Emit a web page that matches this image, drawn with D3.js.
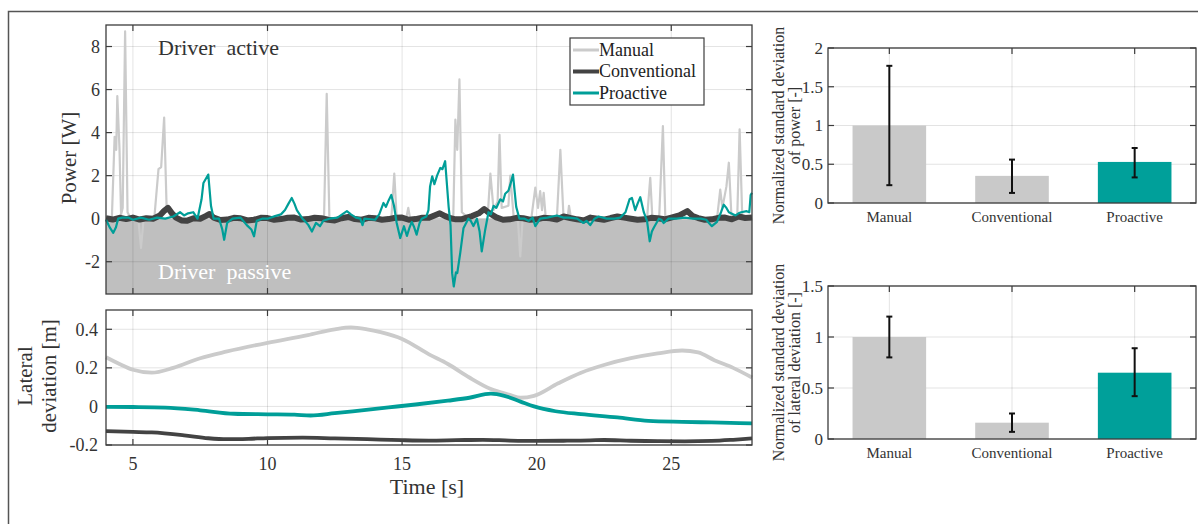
<!DOCTYPE html>
<html>
<head>
<meta charset="utf-8">
<script src="https://cdn.jsdelivr.net/npm/d3@7"></script>
<style>
  body { margin: 0; background: #fff; }
  svg { display: block; font-family: "Liberation Serif", "Times New Roman", serif; }
</style>
</head>
<body>
<svg id="chart" width="1198" height="524"></svg>
<script>
// ---- data ----
const timeDomain = [4, 28];
const timeTicks = [5, 10, 15, 20, 25];
const powerTicks = [-2, 0, 2, 4, 6, 8];
const devTicks = [-0.2, 0, 0.2, 0.4];
const seriesNames = ["Manual", "Conventional", "Proactive"];

// [time s, power W]
const powerManual = [[4.0,0.05],[4.22,0.1],[4.32,3.8],[4.38,3.2],[4.42,5.7],[4.5,3.3],[4.56,0.2],[4.62,0.5],[4.71,8.7],[4.8,0.3],[4.9,0.05],[5.2,0],[5.3,-1.36],[5.4,0],[5.8,0.1],[5.95,2.3],[6.05,2.4],[6.16,4.7],[6.25,0.6],[6.4,0.1],[7,0],[9,0],[12.1,0],[12.2,5.8],[12.3,0],[14.6,0],[14.71,2.1],[14.8,0],[15.15,0],[15.23,0.5],[15.3,0],[16.9,0],[16.98,4.6],[17.05,3.2],[17.13,6.47],[17.22,0.3],[17.5,0],[18.2,0.5],[18.28,2.1],[18.4,0.4],[18.55,0.8],[18.62,3.9],[18.7,0.5],[18.95,0.6],[19.02,2.0],[19.15,0],[19.3,0],[19.39,-1.75],[19.48,0],[19.8,0],[19.95,1.44],[20.05,0.5],[20.13,1.28],[20.2,0.4],[20.26,1.2],[20.34,0],[20.75,0],[20.88,3.2],[21.0,0],[21.15,0],[21.2,0.6],[21.28,0],[24.1,0],[24.22,1.9],[24.3,0],[24.55,0],[24.69,4.3],[24.78,0],[26.7,0],[26.82,1.35],[26.9,0.5],[27.05,1.5],[27.14,2.6],[27.24,0],[27.45,0],[27.54,4.15],[27.64,0],[28,0]];

const powerConventional = [[4.0,0.02],[4.25,-0.04],[4.5,0.04],[4.75,-0.02],[5.0,0.05],[5.25,-0.04],[5.5,0.02],[5.75,0.0],[6.0,0.15],[6.15,0.35],[6.3,0.5],[6.45,0.25],[6.6,0.05],[6.8,-0.08],[7.0,-0.1],[7.25,0.02],[7.5,0.0],[7.7,0.12],[7.85,0.22],[8.0,0.05],[8.25,-0.06],[8.5,-0.04],[8.75,0.04],[9.0,0.02],[9.25,-0.08],[9.5,-0.05],[9.75,0.04],[10.0,0.03],[10.25,-0.05],[10.5,-0.02],[10.75,0.04],[11.0,0.05],[11.25,-0.04],[11.5,-0.02],[11.75,0.04],[12.0,0.02],[12.25,-0.05],[12.5,-0.08],[12.75,0.02],[13.0,0.08],[13.25,-0.02],[13.5,-0.05],[13.75,0.04],[14.0,0.02],[14.25,-0.05],[14.5,-0.02],[14.75,0.04],[15.0,0.05],[15.25,-0.05],[15.5,-0.02],[15.75,0.04],[16.0,0.04],[16.2,0.15],[16.4,0.25],[16.6,0.12],[16.8,0.02],[17.0,-0.03],[17.2,-0.03],[17.4,0.05],[17.6,0.12],[17.85,0.25],[18.05,0.45],[18.25,0.25],[18.5,0.06],[18.75,-0.05],[19.0,-0.03],[19.25,0.04],[19.5,0.02],[19.75,-0.05],[20.0,-0.03],[20.25,0.04],[20.5,0.02],[20.75,-0.04],[21.0,0.1],[21.25,0.03],[21.5,-0.03],[21.75,-0.08],[22.0,0.05],[22.25,0.0],[22.5,-0.05],[22.75,0.03],[23.0,0.1],[23.25,0.05],[23.5,0.0],[23.75,-0.05],[24.0,-0.03],[24.25,0.04],[24.5,0.02],[24.75,-0.03],[25.0,0.05],[25.3,0.15],[25.6,0.35],[25.8,0.12],[26.0,0.03],[26.25,-0.05],[26.5,-0.03],[26.75,0.04],[27.0,0.05],[27.25,-0.03],[27.5,0.1],[27.75,0.03],[28.0,0.05]];

const powerProactive = [[4.0,-0.05],[4.15,-0.43],[4.27,-0.66],[4.37,-0.4],[4.45,0],[4.6,0.05],[4.83,0.05],[5.0,-0.05],[5.3,0.05],[5.6,-0.05],[5.9,0.05],[6.2,0.0],[6.5,0.1],[6.75,0.3],[6.9,0.15],[7.05,0.25],[7.24,0.3],[7.4,0.0],[7.55,0.9],[7.62,1.66],[7.8,2.05],[7.9,0.6],[8.0,0.0],[8.2,0.0],[8.32,-0.5],[8.39,-0.98],[8.5,-0.2],[8.7,0.0],[9.0,0.05],[9.23,-0.3],[9.4,-0.5],[9.5,-0.82],[9.6,-0.1],[9.8,0.0],[10.0,0.0],[10.28,0.12],[10.5,0.2],[10.65,0.4],[10.78,0.7],[10.9,0.96],[11.0,0.7],[11.09,0.4],[11.3,0.0],[11.42,-0.15],[11.52,-0.3],[11.65,-0.6],[11.8,-0.2],[11.95,-0.35],[12.07,-0.1],[12.3,0.0],[12.6,0.05],[12.95,0.35],[13.1,0.2],[13.28,0.05],[13.45,0.0],[13.53,-0.3],[13.6,0.0],[14.0,-0.05],[14.15,0.2],[14.31,0.73],[14.4,0.55],[14.5,0.85],[14.6,1.1],[14.7,0.6],[14.8,-0.2],[14.93,-0.9],[15.07,-0.35],[15.18,-0.8],[15.28,-0.4],[15.36,-0.15],[15.45,-0.4],[15.54,-0.74],[15.65,-0.2],[15.73,0.0],[15.9,0.1],[15.98,0.4],[16.04,1.5],[16.12,1.97],[16.2,1.6],[16.3,2.0],[16.42,2.36],[16.5,2.3],[16.6,2.67],[16.73,0.55],[16.8,-0.3],[16.86,-2.53],[16.92,-3.15],[17.0,-2.5],[17.05,-2.53],[17.16,-1.6],[17.28,-0.45],[17.38,-0.2],[17.46,0.0],[17.55,-0.1],[17.65,-0.34],[17.78,0.0],[17.88,-0.6],[17.96,-1.52],[18.09,-0.5],[18.21,0.3],[18.3,0.2],[18.4,0.6],[18.5,0.5],[18.65,0.9],[18.75,0.8],[18.83,1.16],[18.95,1.3],[19.02,1.58],[19.12,2.05],[19.24,0.55],[19.36,0.0],[19.55,0.0],[19.7,-0.1],[19.85,0.05],[19.95,-0.35],[20.13,0.0],[20.4,0.05],[20.75,0.15],[21.0,0.05],[21.2,0.05],[21.5,0.0],[21.74,-0.2],[21.85,-0.1],[21.99,-0.3],[22.15,0.0],[22.3,0.1],[22.6,0.0],[22.9,0.0],[23.1,0.05],[23.3,0.3],[23.45,0.9],[23.54,0.96],[23.66,0.4],[23.75,0.7],[23.85,1.0],[23.98,0.3],[24.1,-0.1],[24.2,-1.05],[24.28,-0.6],[24.36,-0.4],[24.54,0.0],[24.63,-0.05],[24.72,-0.2],[24.9,0.0],[25.2,0.0],[25.5,0.05],[25.8,0.0],[26.1,0.0],[26.3,-0.05],[26.4,-0.2],[26.51,-0.35],[26.7,-0.15],[26.85,0.3],[26.95,0.65],[27.05,0.5],[27.14,0.3],[27.39,0.15],[27.5,0.25],[27.6,0.3],[27.8,0.35],[27.9,0.3],[27.95,1.1],[28.0,1.2]];

// [time s, lateral deviation m]
const devManual = [[4,0.255],[4.5,0.22],[5,0.19],[5.7,0.175],[6.5,0.2],[7.5,0.25],[8.5,0.285],[10,0.33],[11.5,0.37],[12.5,0.40],[13.1,0.41],[13.7,0.40],[14.2,0.385],[15,0.35],[16,0.27],[16.7,0.22],[17.5,0.15],[18.3,0.09],[19,0.06],[19.4,0.045],[19.9,0.055],[20.8,0.12],[21.65,0.175],[22.5,0.215],[23.5,0.25],[24.5,0.275],[25.4,0.29],[26,0.28],[26.6,0.24],[27.3,0.2],[28,0.15]];
const devConventional = [[4,-0.128],[5,-0.132],[5.7,-0.135],[6.9,-0.15],[7.8,-0.165],[8.5,-0.17],[9.3,-0.168],[10,-0.164],[11.3,-0.162],[12.5,-0.166],[13.7,-0.17],[15,-0.175],[16,-0.177],[17,-0.175],[18,-0.173],[19,-0.177],[20,-0.179],[21,-0.178],[22,-0.176],[22.5,-0.174],[23.5,-0.178],[24.5,-0.18],[25.5,-0.181],[26.5,-0.179],[27.3,-0.173],[28,-0.166]];
const devProactive = [[4,-0.002],[5,-0.003],[6.2,-0.006],[7.5,-0.02],[8.75,-0.038],[10,-0.041],[11,-0.043],[11.6,-0.047],[12.5,-0.035],[13.5,-0.02],[14.5,-0.005],[15.5,0.01],[16.7,0.03],[17.5,0.045],[18.3,0.066],[18.8,0.055],[19.4,0.025],[19.9,0.0],[20.7,-0.025],[21.65,-0.04],[23,-0.057],[24.15,-0.075],[25.4,-0.08],[26.5,-0.083],[28,-0.088]];

// bar charts: normalized standard deviations with error bar limits
const powerStd = [1.0, 0.35, 0.53];
const powerLow = [0.23, 0.13, 0.33];
const powerHigh = [1.77, 0.56, 0.71];
const powerStdTicks = [0, 0.5, 1, 1.5, 2];

const devStd = [1.0, 0.16, 0.65];
const devLow = [0.80, 0.07, 0.42];
const devHigh = [1.20, 0.25, 0.89];
const devStdTicks = [0, 0.5, 1, 1.5];

// ---- styling ----
const TEXT = "#333";
const BOX = "#3c3c3c";
const colors = { Manual: "#cbcbcb", Conventional: "#434343", Proactive: "#009e98" };
const barColors = ["#c9c9c9", "#c9c9c9", "#00a09a"];

const svg = d3.select("#chart");

// outer frame (left and top edges visible)
svg.append("path")
    .attr("d", "M8.5,524V11.5H1198")
    .attr("fill", "none")
    .attr("stroke", "#555")
    .attr("stroke-width", 1.5);

// draws grid, box and inward ticks on all four sides
const drawFrame = (x, y, xTicks, yTicks, opts) => {
    const [x0, x1] = x.range();
    const [y0, y1] = [y.range()[1], y.range()[0]];
    const g = svg.append("g");
    const xPos = opts.xPos || (d => x(d));

    g.selectAll(".vgrid").data(xTicks).enter().append("line")
        .attr("x1", xPos).attr("x2", xPos).attr("y1", y0).attr("y2", y1)
        .attr("stroke", "#000").attr("stroke-opacity", 0.11).attr("stroke-width", 1);
    g.selectAll(".hgrid").data(yTicks).enter().append("line")
        .attr("x1", x0).attr("x2", x1).attr("y1", d => y(d)).attr("y2", d => y(d))
        .attr("stroke", "#000").attr("stroke-opacity", 0.11).attr("stroke-width", 1);

    const t = 6;
    const ticks = svg.append("g").attr("stroke", BOX).attr("stroke-width", 1.2);
    xTicks.forEach(d => {
        ticks.append("line").attr("x1", xPos(d)).attr("x2", xPos(d)).attr("y1", y1).attr("y2", y1 - t);
        ticks.append("line").attr("x1", xPos(d)).attr("x2", xPos(d)).attr("y1", y0).attr("y2", y0 + t);
    });
    yTicks.forEach(d => {
        ticks.append("line").attr("x1", x0).attr("x2", x0 + t).attr("y1", y(d)).attr("y2", y(d));
        ticks.append("line").attr("x1", x1).attr("x2", x1 - t).attr("y1", y(d)).attr("y2", y(d));
    });

    return () => svg.append("rect")
        .attr("x", x0).attr("y", y0).attr("width", x1 - x0).attr("height", y1 - y0)
        .attr("fill", "none").attr("stroke", BOX).attr("stroke-width", 1.3);
};

const yTickLabels = (y, ticks, xRight, size, fmt) => {
    svg.append("g").selectAll("text").data(ticks).enter().append("text")
        .attr("x", xRight).attr("y", d => y(d)).attr("dy", "0.35em")
        .attr("text-anchor", "end").attr("font-size", size).attr("fill", TEXT)
        .text(fmt || (d => d));
};

const rotatedLabel = (lines, xs, cy, size) => {
    lines.forEach((s, i) => {
        svg.append("text")
            .attr("transform", `translate(${xs[i]},${cy}) rotate(-90)`)
            .attr("text-anchor", "middle").attr("font-size", size).attr("fill", TEXT)
            .text(s);
    });
};

// ---- top-left: power ----
const x = d3.scaleLinear().domain(timeDomain).range([106, 752]);
const yP = d3.scaleLinear().domain([-3.5, 9]).range([294, 25]);

svg.append("rect")
    .attr("x", 106).attr("y", yP(0))
    .attr("width", 752 - 106).attr("height", yP(-3.5) - yP(0))
    .attr("fill", "#bfbfbf");

const boxP = drawFrame(x, yP, timeTicks, powerTicks, {});

const lineP = d3.line().x(d => x(d[0])).y(d => yP(d[1]));
const plotP = svg.append("g");
plotP.append("path").datum(powerManual).attr("d", lineP)
    .attr("fill", "none").attr("stroke", colors.Manual).attr("stroke-width", 2.2).attr("stroke-linejoin", "round");
plotP.append("path").datum(powerConventional).attr("d", lineP)
    .attr("fill", "none").attr("stroke", colors.Conventional).attr("stroke-width", 6).attr("stroke-linejoin", "round");
plotP.append("path").datum(powerProactive).attr("d", lineP)
    .attr("fill", "none").attr("stroke", colors.Proactive).attr("stroke-width", 2.2).attr("stroke-linejoin", "round");
boxP();

yTickLabels(yP, powerTicks, 100, 18);

svg.append("text").attr("x", 158).attr("y", 55)
    .attr("font-size", 22).attr("fill", TEXT).style("white-space", "pre")
    .text("Driver  active");
svg.append("text").attr("x", 158).attr("y", 279)
    .attr("font-size", 22).attr("fill", "#fff").style("white-space", "pre")
    .text("Driver  passive");

rotatedLabel(["Power [W]"], [76], 158, 21);

// legend
const legend = svg.append("g");
legend.append("rect").attr("x", 570).attr("y", 38).attr("width", 134).attr("height", 67)
    .attr("fill", "#fff").attr("stroke", BOX).attr("stroke-width", 1.2);
const legWidth = { Manual: 3, Conventional: 4, Proactive: 3 };
seriesNames.forEach((name, i) => {
    const cy = 50 + i * 21.5;
    legend.append("line").attr("x1", 573).attr("x2", 599).attr("y1", cy).attr("y2", cy)
        .attr("stroke", colors[name]).attr("stroke-width", legWidth[name]);
    legend.append("text").attr("x", 599).attr("y", cy).attr("dy", "0.33em")
        .attr("font-size", 18).attr("fill", "#222").text(name);
});

// ---- bottom-left: lateral deviation ----
const yD = d3.scaleLinear().domain([-0.2, 0.5]).range([445, 310]);
const boxD = drawFrame(x, yD, timeTicks, devTicks, {});
const lineD = d3.line().curve(d3.curveMonotoneX).x(d => x(d[0])).y(d => yD(d[1]));
const plotD = svg.append("g");
[[devManual, colors.Manual], [devConventional, colors.Conventional], [devProactive, colors.Proactive]]
    .forEach(([data, c]) => {
        plotD.append("path").datum(data).attr("d", lineD)
            .attr("fill", "none").attr("stroke", c).attr("stroke-width", 3.8);
    });
boxD();

yTickLabels(yD, devTicks, 98, 18, d => d === 0 ? "0" : d.toFixed(1));
svg.append("g").selectAll("text").data(timeTicks).enter().append("text")
    .attr("x", d => x(d)).attr("y", 470)
    .attr("text-anchor", "middle").attr("font-size", 18).attr("fill", TEXT)
    .text(d => d);
svg.append("text").attr("x", 427).attr("y", 494)
    .attr("text-anchor", "middle").attr("font-size", 22).attr("fill", TEXT)
    .text("Time [s]");
rotatedLabel(["Lateral", "deviation [m]"], [32, 56], 376, 21);

// ---- right: bar charts ----
const xb = d3.scaleBand().domain(seriesNames).range([828, 1196]).paddingInner(0.4).paddingOuter(0.2);
const center = d => xb(d) + xb.bandwidth() / 2;

const barChart = (yRange, yMax, ticks, values, low, high, labelY, ylabel) => {
    const y = d3.scaleLinear().domain([0, yMax]).range(yRange);
    const box = drawFrame(xb, y, seriesNames, ticks, { xPos: center });
    const g = svg.append("g");
    g.selectAll("rect").data(seriesNames).enter().append("rect")
        .attr("x", d => xb(d)).attr("width", xb.bandwidth())
        .attr("y", (d, i) => y(values[i])).attr("height", (d, i) => y(0) - y(values[i]))
        .attr("fill", (d, i) => barColors[i]);
    const eb = svg.append("g").attr("stroke", "#111").attr("stroke-width", 2);
    seriesNames.forEach((d, i) => {
        const cx = center(d);
        eb.append("line").attr("x1", cx).attr("x2", cx).attr("y1", y(low[i])).attr("y2", y(high[i]));
        eb.append("line").attr("x1", cx - 3).attr("x2", cx + 3).attr("y1", y(low[i])).attr("y2", y(low[i]));
        eb.append("line").attr("x1", cx - 3).attr("x2", cx + 3).attr("y1", y(high[i])).attr("y2", y(high[i]));
    });
    box();
    yTickLabels(y, ticks, 823, 17);
    svg.append("g").selectAll("text").data(seriesNames).enter().append("text")
        .attr("x", center).attr("y", labelY)
        .attr("text-anchor", "middle").attr("font-size", 15).attr("fill", TEXT)
        .text(d => d);
    rotatedLabel(ylabel, [784, 800], (yRange[0] + yRange[1]) / 2, 16);
};

barChart([203, 48], 2, powerStdTicks, powerStd, powerLow, powerHigh, 222,
    ["Normalized standard deviation", "of power [-]"]);
barChart([439, 286], 1.5, devStdTicks, devStd, devLow, devHigh, 458,
    ["Normalized standard deviation", "of lateral deviation [-]"]);
</script>
</body>
</html>
